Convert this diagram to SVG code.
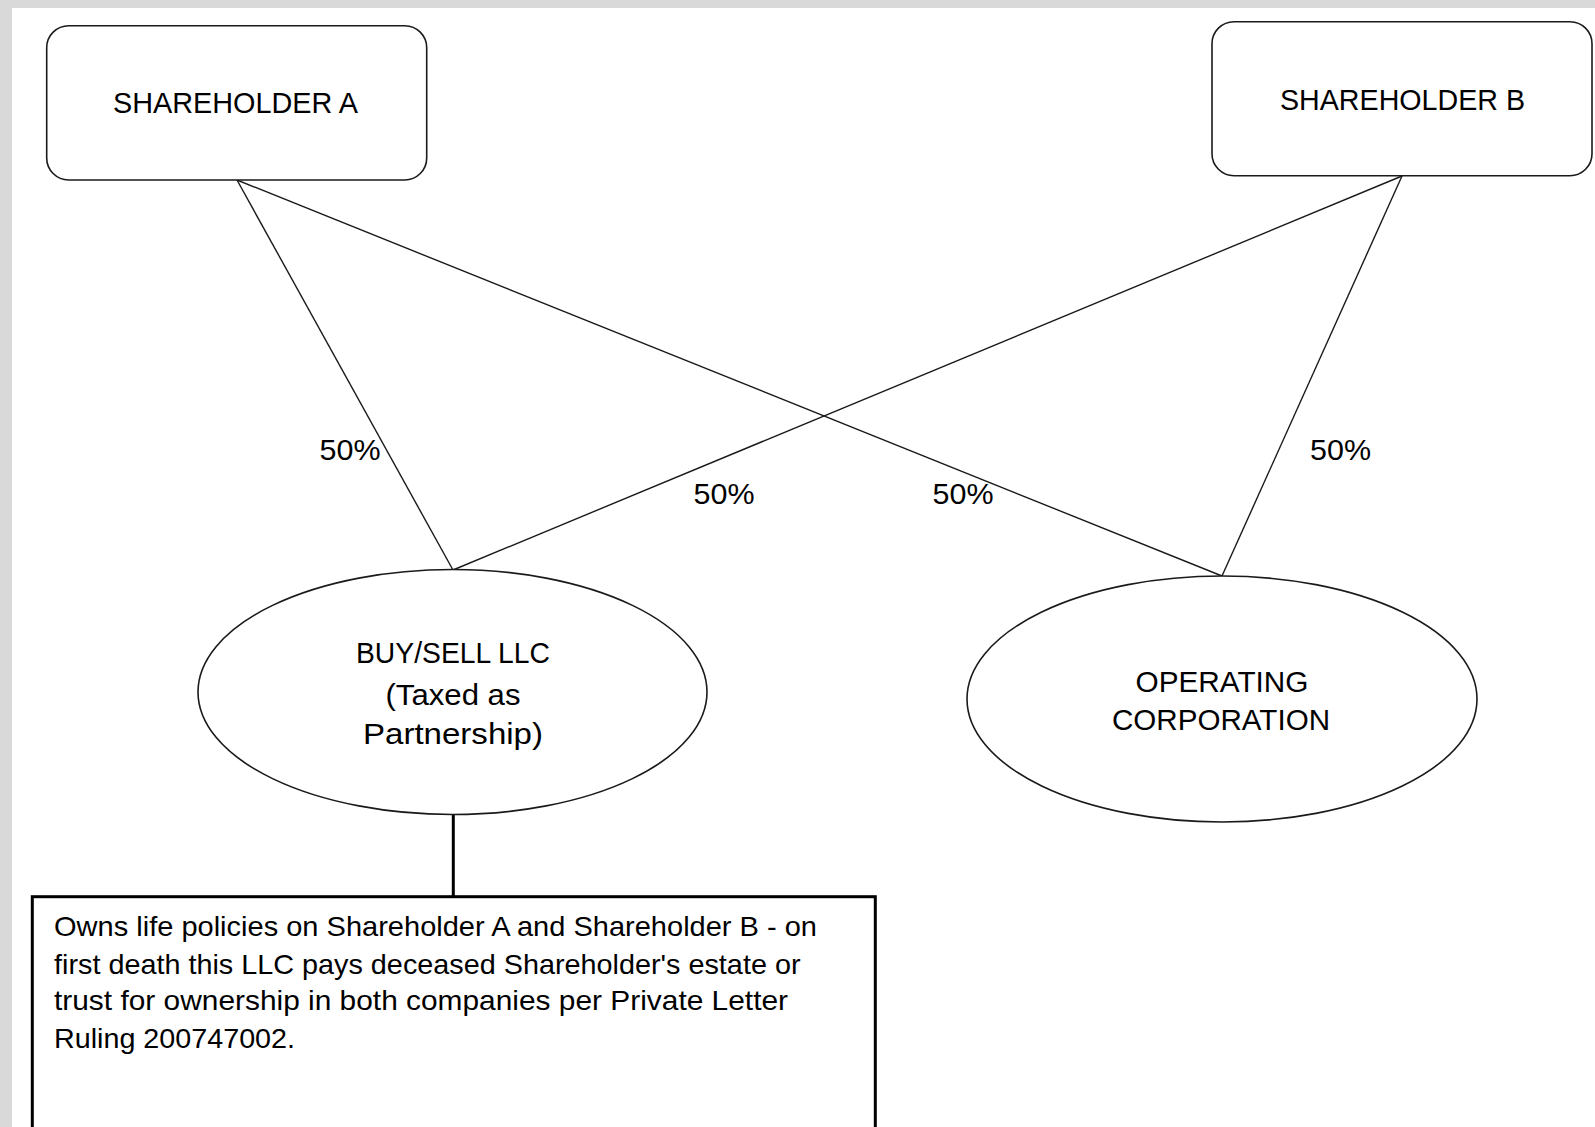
<svg xmlns="http://www.w3.org/2000/svg" width="1595" height="1127" viewBox="0 0 1595 1127">
  <style>
    .shape { fill: #ffffff; stroke: #1a1a1a; stroke-width: 1.6; }
    .heavy { fill: #ffffff; stroke: #000000; stroke-width: 3; }
    .link { stroke: #1a1a1a; stroke-width: 1.4; fill: none; }
    .label { font-family: "Liberation Sans", Arial, sans-serif; font-size: 29px; fill: #000000; text-anchor: middle; }
    .body { font-family: "Liberation Sans", Arial, sans-serif; font-size: 28px; fill: #000000; }
  </style>

  <!-- page background with grey frame at top and left -->
  <rect x="0" y="0" width="1595" height="1127" fill="#d9d9d9"/>
  <rect x="12" y="8" width="1583" height="1119" fill="#ffffff"/>

  <!-- ownership connectors -->
  <g id="connectors">
    <line class="link" x1="237" y1="180" x2="453" y2="570"/>
    <line class="link" x1="237" y1="180" x2="1222" y2="576"/>
    <line class="link" x1="1402" y1="176" x2="453" y2="570"/>
    <line class="link" x1="1402" y1="176" x2="1222" y2="576"/>
    <line x1="453.3" y1="814" x2="453.3" y2="897" stroke="#000000" stroke-width="3"/>
    <text class="label" x="350" y="460" textLength="61" lengthAdjust="spacingAndGlyphs">50%</text>
    <text class="label" x="724" y="503.5" textLength="61" lengthAdjust="spacingAndGlyphs">50%</text>
    <text class="label" x="963" y="503.5" textLength="61" lengthAdjust="spacingAndGlyphs">50%</text>
    <text class="label" x="1340.5" y="460" textLength="61" lengthAdjust="spacingAndGlyphs">50%</text>
  </g>

  <g id="shareholder-a">
    <rect class="shape" x="46.7" y="25.7" width="380" height="154.3" rx="22" ry="22"/>
    <text class="label" x="235.5" y="112.7" textLength="245" lengthAdjust="spacingAndGlyphs">SHAREHOLDER A</text>
  </g>

  <g id="shareholder-b">
    <rect class="shape" x="1212" y="21.7" width="380" height="154" rx="22" ry="22"/>
    <text class="label" x="1402.5" y="110" textLength="245" lengthAdjust="spacingAndGlyphs">SHAREHOLDER B</text>
  </g>

  <g id="buy-sell-llc">
    <ellipse class="shape" cx="452.5" cy="692" rx="254.5" ry="122.5"/>
    <text class="label" x="453" y="663" textLength="194" lengthAdjust="spacingAndGlyphs">BUY/SELL LLC</text>
    <text class="label" x="453" y="705" textLength="135" lengthAdjust="spacingAndGlyphs">(Taxed as</text>
    <text class="label" x="453" y="743.5" textLength="180" lengthAdjust="spacingAndGlyphs">Partnership)</text>
  </g>

  <g id="operating-corporation">
    <ellipse class="shape" cx="1222" cy="699" rx="255" ry="123"/>
    <text class="label" x="1222" y="691.5" textLength="173" lengthAdjust="spacingAndGlyphs">OPERATING</text>
    <text class="label" x="1221" y="730" textLength="218" lengthAdjust="spacingAndGlyphs">CORPORATION</text>
  </g>

  <g id="policy-note">
    <rect class="heavy" x="32.3" y="896.7" width="843" height="260"/>
    <text class="body" x="54" y="935.5" textLength="763" lengthAdjust="spacingAndGlyphs">Owns life policies on Shareholder A and Shareholder B - on</text>
    <text class="body" x="54" y="974" textLength="746.5" lengthAdjust="spacingAndGlyphs">first death this LLC pays deceased Shareholder's estate or</text>
    <text class="body" x="54" y="1010" textLength="734" lengthAdjust="spacingAndGlyphs">trust for ownership in both companies per Private Letter</text>
    <text class="body" x="54" y="1048" textLength="241" lengthAdjust="spacingAndGlyphs">Ruling 200747002.</text>
  </g>
</svg>
